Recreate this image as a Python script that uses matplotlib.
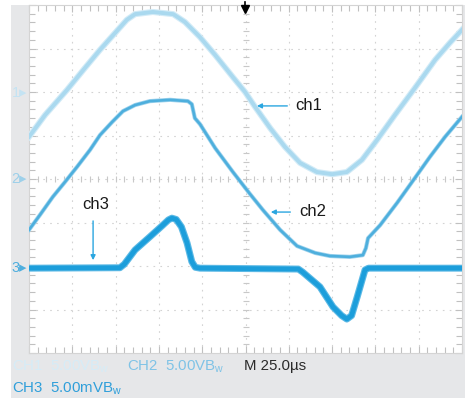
import numpy as np
import matplotlib.pyplot as plt
from matplotlib.patches import Rectangle

ch1_x = [0, 0.37, 0.88, 1.29, 1.64, 1.99, 2.26, 2.45, 2.86, 3.33, 3.60, 3.95, 4.30,
         4.71, 4.99, 5.22, 5.57, 5.91, 6.26, 6.65, 7.00, 7.34, 7.69, 8.04, 8.45,
         8.91, 9.38, 9.72, 10]
ch1_y = [4.97, 5.47, 6.05, 6.55, 6.97, 7.36, 7.66, 7.79, 7.84, 7.79, 7.61, 7.26, 6.85,
         6.34, 6.00, 5.66, 5.17, 4.74, 4.37, 4.16, 4.11, 4.16, 4.44, 4.90, 5.47,
         6.09, 6.74, 7.13, 7.43]

ch2_x = [0, 0.25, 0.55, 0.83, 1.11, 1.41, 1.64, 1.92, 2.17, 2.45, 2.79, 3.26, 3.67,
         3.76, 3.83, 3.95, 4.30, 4.71, 5.10, 5.40, 5.80, 6.19, 6.61, 6.95, 7.41,
         7.71, 7.78, 7.83, 8.11, 8.50, 8.91, 9.26, 9.61, 10]
ch2_y = [2.83, 3.17, 3.59, 3.93, 4.28, 4.67, 5.01, 5.31, 5.56, 5.70, 5.79, 5.82, 5.79,
         5.72, 5.40, 5.26, 4.71, 4.16, 3.66, 3.29, 2.83, 2.46, 2.30, 2.23, 2.21,
         2.25, 2.41, 2.64, 2.94, 3.45, 4.02, 4.51, 4.97, 5.43]

ch3_x = [0, 2.10, 2.20, 2.45, 2.79, 3.08, 3.22, 3.30, 3.40, 3.52, 3.65, 3.76, 3.84,
         3.95, 6.22, 6.32, 6.72, 7.02, 7.22, 7.34, 7.45, 7.58, 7.76, 7.84, 10]
ch3_y = [1.95, 1.96, 2.04, 2.37, 2.67, 2.93, 3.06, 3.10, 3.07, 2.90, 2.53, 2.10, 1.97,
         1.95, 1.93, 1.86, 1.52, 1.06, 0.86, 0.78, 0.86, 1.29, 1.91, 1.95, 1.95]

ch_markers = ['1', '2', '3']
ch_levels = [5.97, 4.0, 1.95]
marker_colors = ['#c4e3f3', '#9dd0ea', '#4eaede']

readout_text = [('CH1  5.00VB$_\\mathrm{w}$', 12, 370, '#d6ecf7'),
                ('CH2  5.00VB$_\\mathrm{w}$', 127, 370, '#7fc3e6'),
                ('M 25.0\u00b5s', 244, 370, '#2b2b2b'),
                ('CH3  5.00mVB$_\\mathrm{w}$', 12, 392, '#2f9fda')]

fig = plt.figure(figsize=(4.65, 3.98), dpi=100)
fig.patch.set_facecolor('white')
bg = Rectangle((11/465, 0), 454/465, 393/398, transform=fig.transFigure,
               facecolor='#e6e7e9', edgecolor='none', zorder=-5)
fig.add_artist(bg)

ax = fig.add_axes([29/465, 45/398, 433/465, 348/398])
ax.set_zorder(2)
ax.set_xlim(0, 10)
ax.set_ylim(0, 8)
ax.set_facecolor('white')

# graticule
for gx in range(1, 10):
    ax.plot([gx, gx], [0, 8], color='#d3d3d3', lw=0.8, ls=(0, (1.5, 4.7)), zorder=1)
for gy in range(1, 8):
    ax.plot([0, 10], [gy, gy], color='#d3d3d3', lw=0.8, ls=(0, (1.5, 4.7)), zorder=1)
minor_x = np.arange(0, 10.01, 0.2)
minor_y = np.arange(0, 8.01, 0.2)
ax.plot(np.full(len(minor_y), 5.0), minor_y, ls='none', marker='_', ms=5,
        color='#c8c8c8', mew=0.8, zorder=1)
ax.plot(minor_x, np.full(len(minor_x), 4.0), ls='none', marker='|', ms=5,
        color='#c8c8c8', mew=0.8, zorder=1)

ax.set_xticks(np.arange(0, 11, 1))
ax.set_yticks(np.arange(0, 9, 1))
ax.set_xticks(minor_x, minor=True)
ax.set_yticks(minor_y, minor=True)
ax.tick_params(which='both', direction='in', top=True, right=True,
               labelbottom=False, labelleft=False, color='#c0c0c0', width=0.8)
ax.tick_params(which='major', length=5)
ax.tick_params(which='minor', length=4)
for s in ax.spines.values():
    s.set_color('#d4d4d4')
    s.set_linewidth(0.8)

# traces
ax.plot(ch1_x, ch1_y, color='#d2ebf7', lw=4.4, zorder=3)
ax.plot(ch1_x, ch1_y, color='#aad9ef', lw=2.8, zorder=3)
ax.plot(ch2_x, ch2_y, color='#9fd3ed', lw=3.0, zorder=4)
ax.plot(ch2_x, ch2_y, color='#4eafdd', lw=1.9, zorder=4)
ax.plot(ch3_x, ch3_y, color='#5cb9e5', lw=5.0, zorder=5)
ax.plot(ch3_x, ch3_y, color='#1c9edb', lw=3.4, zorder=5)

# trigger position marker
ax.plot([4.98, 4.98], [8.08, 7.9], color='black', lw=1.2, clip_on=False, zorder=6)
ax.plot([4.98], [7.9], marker='v', ms=6, color='black', clip_on=False, zorder=6)

# channel ground markers
for lab, lev, col in zip(ch_markers, ch_levels, marker_colors):
    ax.text(-0.40, lev, lab + '\u25b8', color=col, fontsize=10.5,
            family=['Liberation Sans', 'DejaVu Sans'], ha='left', va='center',
            clip_on=False)

# labels with arrows
arr = dict(arrowstyle='-|>', color='#2aa6e0', lw=1.0, mutation_scale=7)
lab_kw = dict(fontsize=12, family='Liberation Sans', color='#1a1a1a', va='center')
ax.annotate('', xy=(5.2, 5.68), xytext=(6.03, 5.68), arrowprops=arr, zorder=7)
ax.text(6.14, 5.70, 'ch1', ha='left', **lab_kw)
ax.annotate('', xy=(5.52, 3.24), xytext=(6.1, 3.24), arrowprops=arr, zorder=7)
ax.text(6.24, 3.26, 'ch2', ha='left', **lab_kw)
ax.annotate('', xy=(1.48, 2.07), xytext=(1.48, 3.1), arrowprops=arr, zorder=7)
ax.text(1.55, 3.42, 'ch3', ha='center', **lab_kw)

# scope readout
plt.rcParams['mathtext.fontset'] = 'custom'
plt.rcParams['mathtext.rm'] = 'Liberation Sans'
for s, px, base, col in readout_text:
    fig.text(px/465, 1 - base/398, s, fontsize=10.8, color=col,
             family='Liberation Sans', ha='left', va='baseline')

fig.savefig('out.png', dpi=100)
